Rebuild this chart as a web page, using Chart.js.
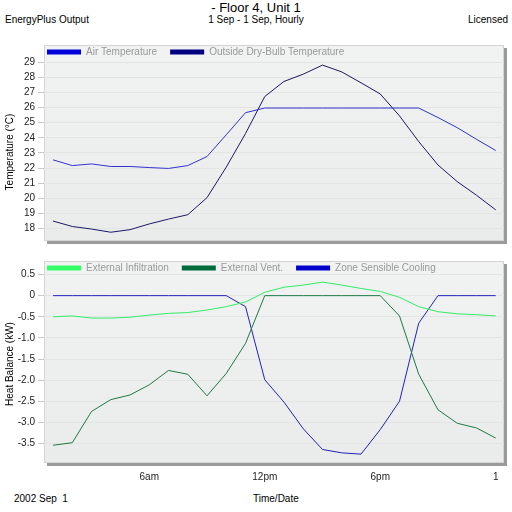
<!DOCTYPE html>
<html>
<head>
<meta charset="utf-8">
<script src="https://cdn.jsdelivr.net/npm/chart.js@4.4.1/dist/chart.umd.min.js"></script>
<style>
  body { margin: 0; background: #fff; font-family: "Liberation Sans", Arial, sans-serif; }
  #page { position: relative; width: 512px; height: 512px; overflow: hidden; }
  .txt { position: absolute; font-size: 10px; color: #000; white-space: pre; line-height: 12px; }
  .ytitle { position: absolute; width: 120px; text-align: center; font-size: 10px; line-height: 12px; transform: rotate(-90deg); }
  #c1 { position: absolute; left: 0; top: 36px; }
  #c2 { position: absolute; left: 0; top: 252px; }
</style>
</head>
<body>
<div id="page">
  <div class="txt" style="left:0;width:512px;text-align:center;top:0;font-size:13px;line-height:15px;">- Floor 4, Unit 1</div>
  <div class="txt" style="left:5px;top:14px;">EnergyPlus Output</div>
  <div class="txt" style="left:0;width:512px;text-align:center;top:14px;">1 Sep - 1 Sep, Hourly</div>
  <div class="txt" style="right:4px;top:14px;">Licensed</div>
  <div class="txt" style="left:14px;top:493px;">2002 Sep  1</div>
  <div class="txt" style="left:253px;top:493px;">Time/Date</div>
  <canvas id="c1" width="512" height="214"></canvas>
  <canvas id="c2" width="512" height="236"></canvas>
  <div class="ytitle" style="left:-50px;top:146px;">Temperature (°C)</div>
  <div class="ytitle" style="left:-50px;top:358px;">Heat Balance (kW)</div>
</div>
<script>
// hourly, 1am .. midnight (index 0..23)
var hours = [0,1,2,3,4,5,6,7,8,9,10,11,12,13,14,15,16,17,18,19,20,21,22,23];
var hourTicks = {5: '6am', 11: '12pm', 17: '6pm', 23: '1'};

var airTemp = [22.54, 22.16, 22.27, 22.1, 22.1, 22.03, 21.97, 22.16, 22.76, 24.2, 25.66, 25.97,
  25.97, 25.97, 25.97, 25.97, 25.97, 25.97, 25.97, 25.97, 25.34, 24.67, 23.9, 23.16];
var outsideTemp = [18.49, 18.13, 17.96, 17.75, 17.92, 18.3, 18.62, 18.91, 20.04, 22.06, 24.28, 26.73,
  27.73, 28.21, 28.81, 28.36, 27.64, 26.9, 25.45, 23.75, 22.2, 21.1, 20.2, 19.23];

var infiltration = [-0.5, -0.48, -0.53, -0.53, -0.51, -0.46, -0.42, -0.4, -0.34, -0.26, -0.15, 0.08,
  0.2, 0.25, 0.32, 0.25, 0.17, 0.1, -0.04, -0.26, -0.38, -0.43, -0.45, -0.48];
var vent = [-3.54, -3.48, -2.74, -2.46, -2.35, -2.11, -1.77, -1.86, -2.37, -1.84, -1.13, 0,
  0, 0, 0, 0, 0, 0, -0.48, -1.86, -2.7, -3.02, -3.13, -3.37];
var cooling = [0, 0, 0, 0, 0, 0, 0, 0, 0, 0, -0.26, -1.99,
  -2.52, -3.15, -3.64, -3.72, -3.75, -3.17, -2.5, -0.65, 0, 0, 0, 0];

var tempTicks = [18, 19, 20, 21, 22, 23, 24, 25, 26, 27, 28, 29];
var heatTicks = [0.5, 0, -0.5, -1.0, -1.5, -2.0, -2.5, -3.0, -3.5];

function pts(arr) {
  return arr.map(function(v, i) { return {x: hours[i], y: v}; });
}

// plot panel with drop shadow, legend laid out in a row inside the panel
var panel = {
  id: 'panel',
  afterInit: function(chart) {
    if (chart.legend) chart.legend.isHorizontal = function() { return true; };
  },
  beforeDraw: function(chart) {
    var a = chart.chartArea, ctx = chart.ctx;
    ctx.save();
    ctx.fillStyle = '#9a9a9a';
    ctx.fillRect(a.left + 3, a.top + 3, a.right - a.left, a.bottom - a.top);
    var g = ctx.createLinearGradient(0, a.top, 0, a.bottom);
    g.addColorStop(0, '#f1f2f2');
    g.addColorStop(1, '#eaebeb');
    ctx.fillStyle = g;
    ctx.fillRect(a.left, a.top, a.right - a.left, a.bottom - a.top);
    ctx.strokeStyle = '#d4d4d4';
    ctx.lineWidth = 1;
    ctx.strokeRect(a.left + 0.5, a.top + 0.5, a.right - a.left - 1, a.bottom - a.top - 1);
    ctx.restore();
  },
  afterLayout: function(chart) {
    var lg = chart.legend, a = chart.chartArea;
    if (!lg) return;
    lg.left = a.left - 10;
    lg.right = a.right;
    lg.top = a.top - 11;
    lg.bottom = a.bottom;
  }
};

Chart.defaults.font.family = '"Liberation Sans", Arial, sans-serif';
Chart.defaults.font.size = 10;
Chart.defaults.color = '#000';

function legendOpts(colors) {
  return {
    position: 'chartArea',
    align: 'start',
    labels: {
      boxWidth: 34,
      boxHeight: 5,
      padding: 13,
      color: '#999',
      font: {size: 10},
      generateLabels: function(chart) {
        return chart.data.datasets.map(function(ds, i) {
          return {text: ds.label, fillStyle: colors[i], strokeStyle: colors[i], fontColor: '#999',
            lineWidth: 0, datasetIndex: i};
        });
      }
    }
  };
}

function yAxis(min, max, list, fmt) {
  return {
    min: min,
    max: max,
    afterBuildTicks: function(s) { s.ticks = list.map(function(v) { return {value: v}; }); },
    afterFit: function(s) { s.width = 44; },
    grid: {color: '#e3e5e5', tickColor: '#c8c8c8', tickLength: 6},
    border: {display: false},
    ticks: {padding: 3, autoSkip: false, color: '#222', callback: fmt}
  };
}

new Chart(document.getElementById('c1'), {
  type: 'line',
  data: {
    datasets: [
      {label: 'Air Temperature', data: pts(airTemp), borderColor: '#3333cc', borderWidth: 1, pointRadius: 0, tension: 0},
      {label: 'Outside Dry-Bulb Temperature', data: pts(outsideTemp), borderColor: '#1a1a66', borderWidth: 1, pointRadius: 0, tension: 0}
    ]
  },
  options: {
    responsive: false,
    animation: false,
    layout: {padding: {top: 5, right: 8, bottom: 5, left: 0}},
    plugins: {
      legend: legendOpts(['#0000dd', '#000080']),
      tooltip: {enabled: false}
    },
    scales: {
      x: {type: 'linear', min: -0.47, max: 23.43, display: false},
      y: yAxis(17.17, 30.14, tempTicks, function(v) { return String(v); })
    }
  },
  plugins: [panel]
});

new Chart(document.getElementById('c2'), {
  type: 'line',
  data: {
    datasets: [
      {label: 'External Infiltration', data: pts(infiltration), borderColor: '#33ee66', borderWidth: 1, pointRadius: 0, tension: 0},
      {label: 'External Vent.', data: pts(vent), borderColor: '#1f7a45', borderWidth: 1, pointRadius: 0, tension: 0},
      {label: 'Zone Sensible Cooling', data: pts(cooling), borderColor: '#2222bb', borderWidth: 1, pointRadius: 0, tension: 0}
    ]
  },
  options: {
    responsive: false,
    animation: false,
    layout: {padding: {top: 7, right: 8, bottom: 0, left: 0}},
    plugins: {
      legend: legendOpts(['#33ff66', '#006b3c', '#0000cc']),
      tooltip: {enabled: false}
    },
    scales: {
      x: {
        type: 'linear',
        min: -0.47,
        max: 23.43,
        afterBuildTicks: function(s) { s.ticks = [5, 11, 17, 23].map(function(v) { return {value: v}; }); },
        afterFit: function(s) { s.height = 25; },
        grid: {display: false, drawTicks: false},
        border: {display: false},
        ticks: {padding: 8, maxRotation: 0, autoSkip: false, color: '#222',
          callback: function(v) { return hourTicks[v] || ''; }}
      },
      y: yAxis(-3.96, 0.82, heatTicks, function(v) { return v === 0 ? '0' : v.toFixed(1); })
    }
  },
  plugins: [panel]
});
</script>
</body>
</html>
